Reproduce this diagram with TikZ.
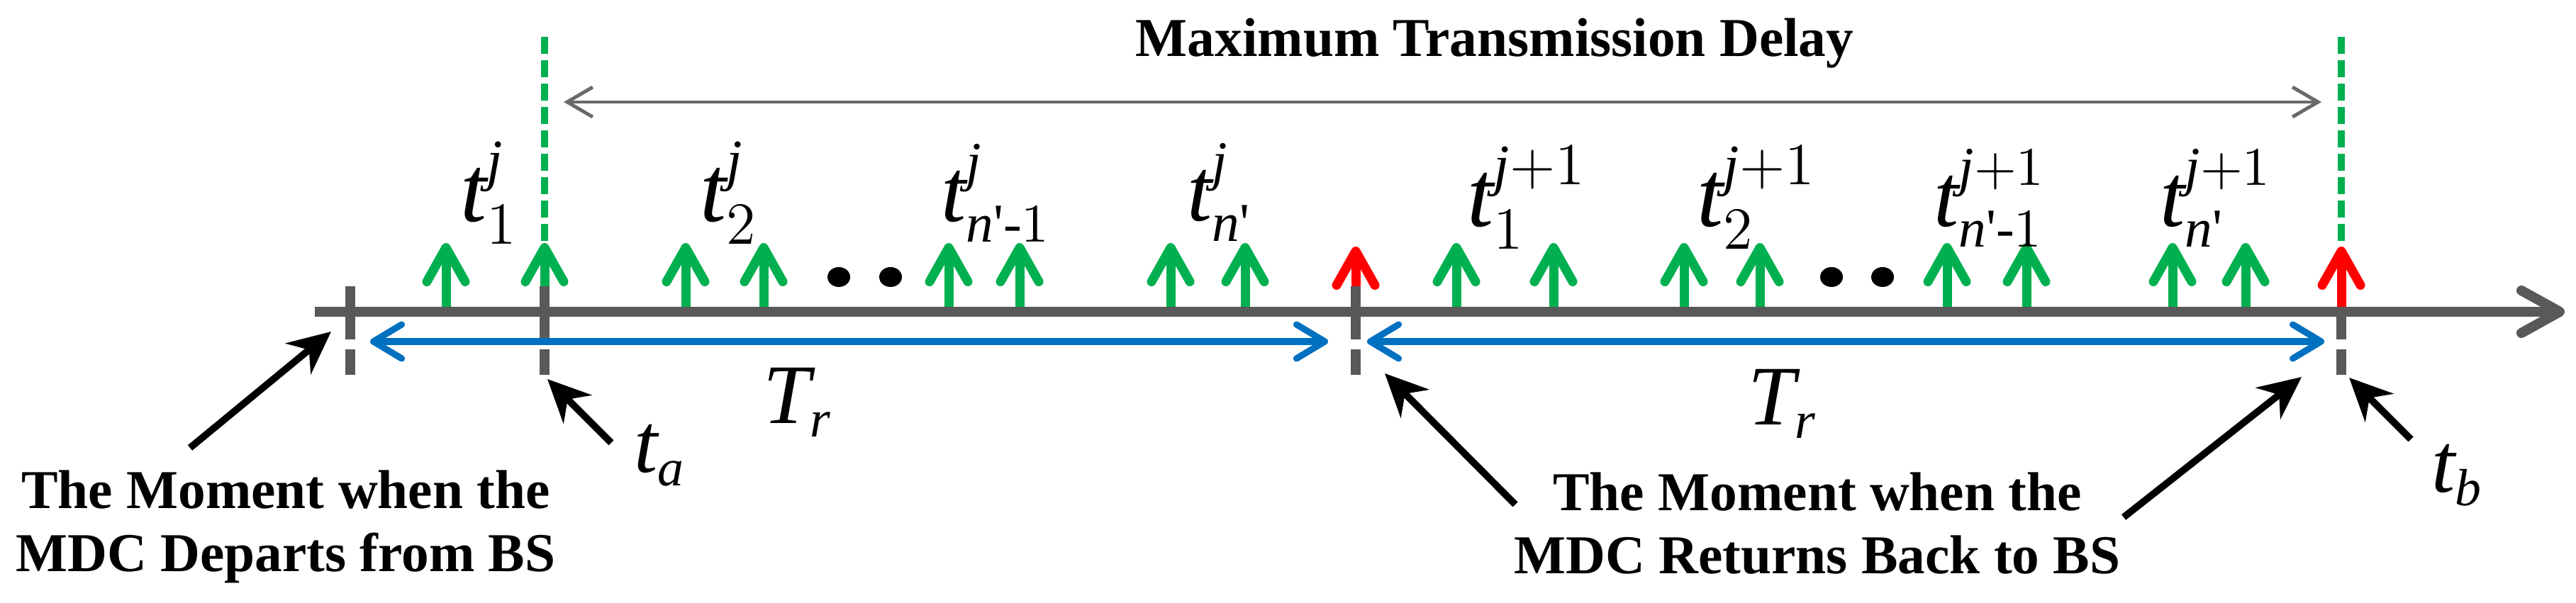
\documentclass[tikz,border=0pt]{standalone}
\usepackage{amsmath}
\usepackage{fontspec}
\setmainfont{Liberation Serif}
\usetikzlibrary{arrows.meta,positioning}
\DeclareMathSizes{19}{19}{11.5}{8}
\DeclareMathSizes{18}{18}{11}{8}
\DeclareMathSizes{17}{17}{10.5}{7}
\definecolor{tlgreen}{RGB}{0,176,80}
\definecolor{tlred}  {RGB}{255,0,0}
\definecolor{tlblue} {RGB}{0,112,192}
\definecolor{tlgray} {RGB}{89,89,89}
\definecolor{tlgrayl}{RGB}{105,105,105}
\newcommand{\tpr}{\text{\textquotesingle}}
\tikzset{
  axisline/.style={line width=2pt,color=tlgray,
                   -{Straight Barb[round,length=0.27cm,width=0.3cm]}},
  tickline/.style={line width=2pt,color=tlgray,
                   dash pattern=on 0.375cm off 0.07cm on 0.18cm off 2cm},
  ticklow/.style={tickline,dash pattern=on 0.195cm off 0.07cm on 0.18cm off 2cm},
  ev/.style={line width=1.85pt,color=tlgreen,
             -{Straight Barb[round,length=0.24cm,width=0.27cm]}},
  evred/.style={ev,color=tlred},
  limit/.style={line width=1.4pt,color=tlgreen,dash pattern=on 0.12cm off 0.045cm},
  period/.style={line width=1.3pt,color=tlblue,
                 {Straight Barb[round,length=0.2cm,width=0.24cm]}-{Straight Barb[round,length=0.2cm,width=0.24cm]}},
  delay/.style={line width=0.7pt,color=tlgrayl,
                {Straight Barb[length=0.18cm,width=0.21cm]}-{Straight Barb[length=0.18cm,width=0.21cm]}},
  ptr/.style={line width=1.4pt,-{Stealth[length=0.3cm,width=0.28cm]}},
  tlbl/.style={inner sep=0pt,anchor=base west,font=\fontsize{19}{19}\selectfont},
  tlblsm/.style={tlbl,font=\fontsize{18}{18}\selectfont},
  tlblab/.style={tlbl,font=\fontsize{17}{17}\selectfont},
  note/.style={inner sep=0pt,align=center,anchor=base,
               font=\fontsize{11}{12.7}\selectfont\bfseries},
}

\begin{document}
\begin{tikzpicture}
  \useasboundingbox (0,0) rectangle (18.165,4.255);
  \coordinate (DEP) at (2.47,2.235);
  \coordinate (TA)  at (3.84,2.235);
  \coordinate (RET) at (9.56,2.235);
  \coordinate (TB)  at (16.51,2.055);

  % dashed limits of the delay
  \draw[limit] (3.84,3.995) -- (3.84,2.54);
  \draw[limit] (16.51,3.995) -- (16.51,2.515);
  \coordinate (MTDL) at (3.975,3.535);
  \coordinate (MTDR) at (16.37,3.535);
  \draw[delay] (MTDL) -- (MTDR);
  \node[note] (MTD) at (10.54,3.855) {Maximum Transmission Delay};

  % events of round j
  \draw[ev] (3.145,2.055) -- (3.145,2.54);
  \draw[ev] (3.84,2.055)  -- (3.84,2.54);
  \draw[ev] (4.835,2.055) -- (4.835,2.54);
  \draw[ev] (5.385,2.055) -- (5.385,2.54);
  \draw[ev] (6.69,2.055)  -- (6.69,2.54);
  \draw[ev] (7.19,2.055)  -- (7.19,2.54);
  \draw[ev] (8.255,2.055) -- (8.255,2.54);
  \draw[ev] (8.78,2.055)  -- (8.78,2.54);
  \draw[evred] (9.56,2.055) -- (9.56,2.515);
  % events of round j+1
  \draw[ev] (10.27,2.055) -- (10.27,2.54);
  \draw[ev] (10.955,2.055) -- (10.955,2.54);
  \draw[ev] (11.875,2.055) -- (11.875,2.54);
  \draw[ev] (12.41,2.055) -- (12.41,2.54);
  \draw[ev] (13.73,2.055) -- (13.73,2.54);
  \draw[ev] (14.29,2.055) -- (14.29,2.54);
  \draw[ev] (15.32,2.055) -- (15.32,2.54);
  \draw[ev] (15.835,2.055) -- (15.835,2.54);
  \draw[evred] (16.51,2.055) -- (16.51,2.515);

  \fill (5.915,2.3) ellipse (0.08cm and 0.07cm);
  \fill (6.28,2.3) ellipse (0.08cm and 0.07cm);
  \fill (12.915,2.3) ellipse (0.08cm and 0.07cm);
  \fill (13.275,2.3) ellipse (0.08cm and 0.07cm);

  \draw[axisline] (2.22,2.055) -- (18.085,2.055);
  \draw[tickline] (DEP) -- ++(0,-0.7);
  \draw[tickline] (TA)  -- ++(0,-0.7);
  \draw[tickline] (RET) -- ++(0,-0.7);
  \draw[ticklow]  (TB)  -- ++(0,-0.6);

  \coordinate (P1L) at (2.61,1.845);
  \coordinate (P1R) at (9.365,1.845);
  \coordinate (P2L) at (9.64,1.845);
  \coordinate (P2R) at (16.39,1.845);
  \draw[period] (P1L) -- (P1R);
  \draw[period] (P2L) -- (P2R);
  \node[tlblab] (TR1) at (5.375,1.265) {$\mathit{T}_{\mathit{r}}$};
  \node[tlblab] (TR2) at (12.32,1.255) {$\mathit{T}_{\mathit{r}}$};

  \node[tlbl]   (T1J)  at (3.24,2.69)  {$\mathit{t}_{1}^{\mathit{j}}$};
  \node[tlbl]   (T2J)  at (4.93,2.69)  {$\mathit{t}_{2}^{\mathit{j}}$};
  \node[tlblsm] (TN1J) at (6.63,2.69)  {$\mathit{t}_{\mathit{n}\tpr\text{-}1}^{\mathit{j}}$};
  \node[tlblsm] (TNJ)  at (8.365,2.695) {$\mathit{t}_{\mathit{n}\tpr}^{\mathit{j}}$};
  \node[tlbl]   (T1K)  at (10.34,2.655) {$\mathit{t}_{1}^{\mathit{j}+1}$};
  \node[tlbl]   (T2K)  at (11.96,2.655) {$\mathit{t}_{2}^{\mathit{j}+1}$};
  \node[tlblsm] (TN1K) at (13.63,2.655) {$\mathit{t}_{\mathit{n}\tpr\text{-}1}^{\mathit{j}+1}$};
  \node[tlblsm] (TNK)  at (15.225,2.655) {$\mathit{t}_{\mathit{n}\tpr}^{\mathit{j}+1}$};

  % pointers
  \node[tlblab] (TAL) at (4.465,0.92) {$\mathit{t}_{\mathit{a}}$};
  \node[tlblab] (TBL) at (17.14,0.78) {$\mathit{t}_{\mathit{b}}$};
  \node[note] (DEPTXT) at (2.015,0.22) {The Moment when the\\MDC Departs from BS};
  \node[note] (RETTXT) at (12.815,0.205) {The Moment when the\\MDC Returns Back to BS};
  \coordinate (DEPfrom) at (1.34,1.095);   \coordinate (DEPto) at (2.335,1.915);
  \coordinate (TAfrom)  at (4.31,1.13);    \coordinate (TAto)  at (3.86,1.58);
  \coordinate (RETfrom) at (10.685,0.695); \coordinate (RETto) at (9.765,1.62);
  \coordinate (TBfromA) at (14.975,0.605); \coordinate (TBtoA) at (16.23,1.595);
  \coordinate (TBfrom)  at (17.0,1.155);   \coordinate (TBto)  at (16.565,1.59);
  \draw[ptr] (DEPfrom) -- (DEPto);
  \draw[ptr] (TAfrom)  -- (TAto);
  \draw[ptr] (RETfrom) -- (RETto);
  \draw[ptr] (TBfromA) -- (TBtoA);
  \draw[ptr] (TBfrom)  -- (TBto);
\end{tikzpicture}
\end{document}
